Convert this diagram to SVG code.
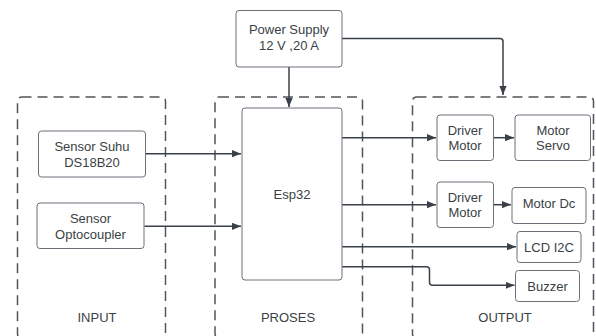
<svg xmlns="http://www.w3.org/2000/svg" width="596" height="336" viewBox="0 0 596 336">
<style>
.grp{fill:none;stroke:#50555c;stroke-width:1.5;stroke-dasharray:10 6}
.box{fill:#fff;stroke:#6b7079;stroke-width:1}
.t{font-family:"Liberation Sans",Arial,sans-serif;font-size:13px;fill:#3a3f45;text-anchor:middle}
.c{fill:none;stroke:#3a4048;stroke-width:1.5}
</style>
<defs>
<marker id="ah" viewBox="0 0 10 10" refX="10" refY="5" markerWidth="6" markerHeight="6" markerUnits="strokeWidth" orient="auto">
<path d="M0,1 L10,5 L0,9 z" fill="#3a4048"/>
</marker>
</defs>
<rect width="596" height="336" fill="#fff"/>
<g id="group-input"><rect class="grp" x="17.5" y="97" width="148" height="241" rx="4"/><text class="t" x="97" y="321.5">INPUT</text></g>
<g id="group-proses"><rect class="grp" x="215" y="97" width="147.5" height="241" rx="4"/><text class="t" x="288" y="321.5">PROSES</text></g>
<g id="group-output"><rect class="grp" x="412.5" y="97" width="181" height="241" rx="4"/><text class="t" x="505" y="321.5">OUTPUT</text></g>
<g id="connectors">
<path class="c" d="M289,67 V107" marker-end="url(#ah)"/>
<path class="c" d="M342,38.5 H500 Q503,38.5 503,41.5 V95" marker-end="url(#ah)"/>
<path class="c" d="M146,153.7 H241" marker-end="url(#ah)"/>
<path class="c" d="M144.5,226.3 H241" marker-end="url(#ah)"/>
<path class="c" d="M342,137.7 H436" marker-end="url(#ah)"/>
<path class="c" d="M493.5,137.7 H514" marker-end="url(#ah)"/>
<path class="c" d="M342,204.7 H436" marker-end="url(#ah)"/>
<path class="c" d="M493.5,204.7 H511" marker-end="url(#ah)"/>
<path class="c" d="M342,246.7 H516" marker-end="url(#ah)"/>
<path class="c" d="M342,266.7 H426.5 Q429.5,266.7 429.5,269.7 V282.3 Q429.5,285.3 432.5,285.3 H514.5" marker-end="url(#ah)"/>
</g>
<g id="power"><rect class="box" x="236" y="10.5" width="106" height="56.5" rx="3"/><text class="t" x="289" y="33.5">Power Supply</text><text class="t" x="289" y="49.5">12 V ,20 A</text></g>
<g id="esp32"><rect class="box" x="242" y="108" width="100" height="172" rx="3"/><text class="t" x="292" y="198.5">Esp32</text></g>
<g id="sensor-suhu"><rect class="box" x="38.5" y="131" width="107" height="46" rx="3"/><text class="t" x="92" y="150.5">Sensor Suhu</text><text class="t" x="92" y="166.5">DS18B20</text></g>
<g id="sensor-opto"><rect class="box" x="37" y="203" width="107" height="45.5" rx="3"/><text class="t" x="90.5" y="222.5">Sensor</text><text class="t" x="90.5" y="238.5">Optocoupler</text></g>
<g id="driver1"><rect class="box" x="437" y="115" width="56.5" height="45.5" rx="3"/><text class="t" x="465" y="134.5">Driver</text><text class="t" x="465" y="150">Motor</text></g>
<g id="servo"><rect class="box" x="515" y="115" width="75.5" height="45.5" rx="3"/><text class="t" x="553" y="134.5">Motor</text><text class="t" x="553" y="150">Servo</text></g>
<g id="driver2"><rect class="box" x="437" y="182" width="56.5" height="45.5" rx="3"/><text class="t" x="465" y="201.5">Driver</text><text class="t" x="465" y="217">Motor</text></g>
<g id="motor-dc"><rect class="box" x="512" y="187.5" width="74" height="36" rx="3"/><text class="t" x="549" y="207.5">Motor Dc</text></g>
<g id="lcd"><rect class="box" x="517" y="231.5" width="64" height="31" rx="3"/><text class="t" x="549" y="251.5">LCD I2C</text></g>
<g id="buzzer"><rect class="box" x="515.5" y="270.5" width="64" height="31" rx="3"/><text class="t" x="547.5" y="290.5">Buzzer</text></g>
</svg>
